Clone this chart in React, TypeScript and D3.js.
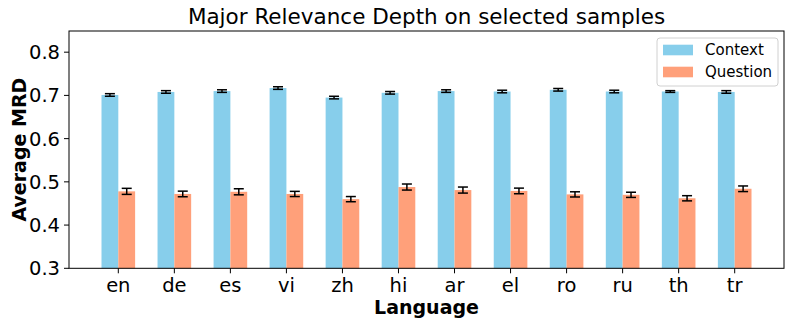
import React from 'react';
import * as d3 from 'd3';

const languages = ['en', 'de', 'es', 'vi', 'zh', 'hi', 'ar', 'el', 'ro', 'ru', 'th', 'tr'];
const contextValues = [0.701, 0.708, 0.710, 0.717, 0.695, 0.706, 0.710, 0.709, 0.713, 0.709, 0.709, 0.708];
const contextErrors = [0.003, 0.003, 0.003, 0.003, 0.003, 0.003, 0.003, 0.003, 0.003, 0.003, 0.002, 0.003];
const questionValues = [0.478, 0.472, 0.477, 0.472, 0.460, 0.488, 0.481, 0.479, 0.471, 0.470, 0.462, 0.484];
const questionErrors = [0.007, 0.0065, 0.007, 0.006, 0.006, 0.007, 0.007, 0.0065, 0.006, 0.006, 0.006, 0.0065];
const yTicks = [0.3, 0.4, 0.5, 0.6, 0.7, 0.8];

const series = [
  { name: 'Context', values: contextValues, errors: contextErrors, color: '#87CEEB', offset: -0.15 },
  { name: 'Question', values: questionValues, errors: questionErrors, color: '#FFA07A', offset: 0.15 },
];

const W = 793;
const H = 325;
const left = 69;
const right = 784;
const top = 31;
const bottom = 268.3;
const barWidth = 0.3;
const font = 'DejaVu Sans, sans-serif';

export default function App() {
  const x = d3.scaleLinear().domain([-0.88, 11.88]).range([left, right]);
  const y = d3.scaleLinear().domain([0.3, 0.849]).range([bottom, top]);
  const bw = x(barWidth) - x(0);

  return (
    <svg width={W} height={H} style={{ position: 'absolute', left: 0, top: 0, background: '#fff' }}>
      <text x={(left + right) / 2} y={24} textAnchor="middle" fontFamily={font} fontSize={21.5}>
        Major Relevance Depth on selected samples
      </text>

      {series.map(s => (
        <g key={s.name}>
          {s.values.map((v, i) => (
            <rect
              key={i}
              x={x(i + s.offset - barWidth / 2)}
              y={y(v)}
              width={bw}
              height={y(0.3) - y(v)}
              fill={s.color}
            />
          ))}
          {s.values.map((v, i) => {
            const cx = x(i + s.offset);
            const y1 = y(v + s.errors[i]);
            const y2 = y(v - s.errors[i]);
            return (
              <g key={'e' + i} stroke="#000" strokeWidth={1.5}>
                <line x1={cx} x2={cx} y1={y1} y2={y2} />
                <line x1={cx - 5} x2={cx + 5} y1={y1} y2={y1} />
                <line x1={cx - 5} x2={cx + 5} y1={y2} y2={y2} />
              </g>
            );
          })}
        </g>
      ))}

      <rect x={left} y={top} width={right - left} height={bottom - top} fill="none" stroke="#000" strokeWidth={1} />

      {yTicks.map(t => (
        <g key={t}>
          <line x1={left - 5} x2={left} y1={y(t)} y2={y(t)} stroke="#000" />
          <text x={left - 9} y={y(t)} dy="0.36em" textAnchor="end" fontFamily={font} fontSize={19.5}>
            {t.toFixed(1)}
          </text>
        </g>
      ))}

      {languages.map((l, i) => (
        <g key={l}>
          <line x1={x(i)} x2={x(i)} y1={bottom} y2={bottom + 5} stroke="#000" />
          <text x={x(i)} y={bottom + 24} textAnchor="middle" fontFamily={font} fontSize={19.5}>
            {l}
          </text>
        </g>
      ))}

      <text x={(left + right) / 2} y={314} textAnchor="middle" fontFamily={font} fontSize={19} fontWeight="bold">
        Language
      </text>
      <text
        transform={`translate(25.5,${(top + bottom) / 2}) rotate(-90)`}
        textAnchor="middle"
        fontFamily={font}
        fontSize={19}
        fontWeight="bold"
      >
        Average MRD
      </text>

      <g>
        <rect x={657} y={38} width={121} height={48} rx={3} fill="#fff" fillOpacity={0.8} stroke="#d0d0d0" />
        {series.map((s, i) => (
          <g key={s.name}>
            <rect x={663} y={44.7 + i * 22} width={30} height={10.6} fill={s.color} />
            <text x={705} y={50 + i * 22} dy="0.36em" fontFamily={font} fontSize={15}>
              {s.name}
            </text>
          </g>
        ))}
      </g>
    </svg>
  );
}
